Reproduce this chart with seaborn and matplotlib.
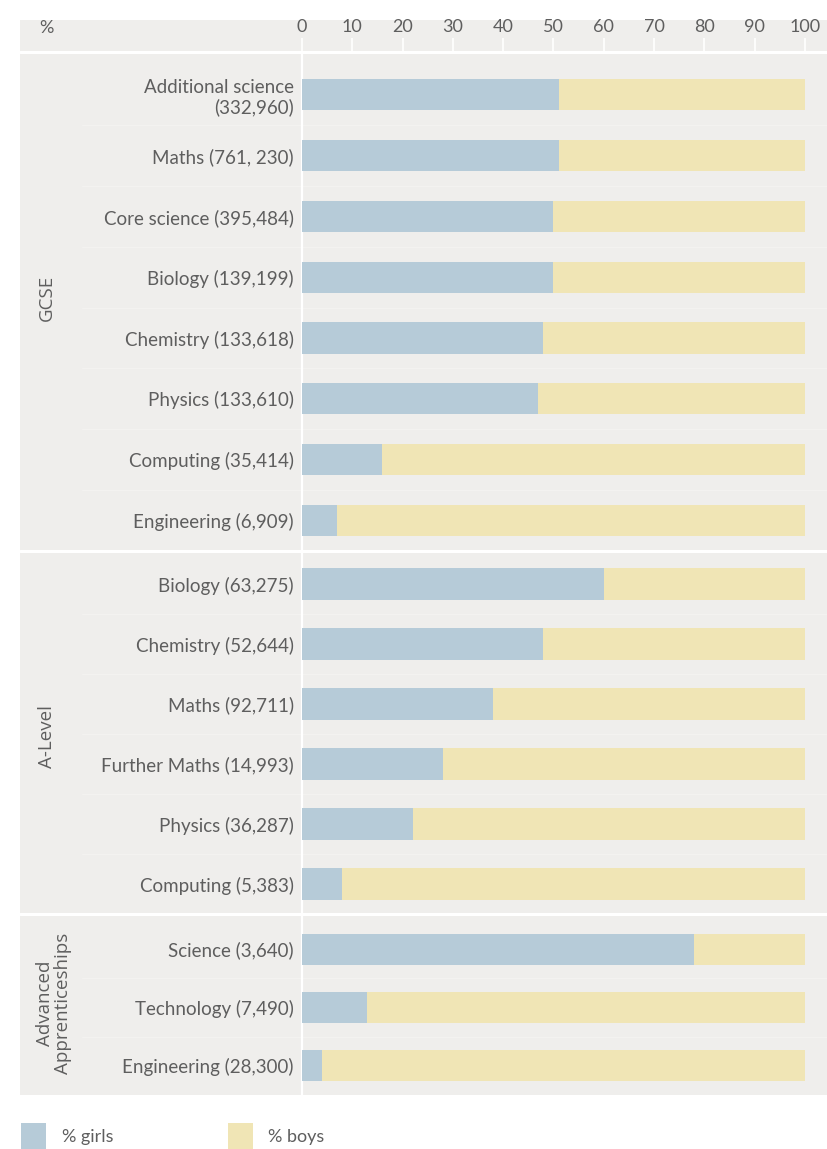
import matplotlib
matplotlib.use("Agg")
import matplotlib.pyplot as plt
from matplotlib.patches import Rectangle, Patch
from matplotlib.lines import Line2D
import seaborn as sns
import pandas as pd

sns.set_theme(style="white")
plt.rcParams['font.family'] = ['Lato', 'DejaVu Sans']

# ---- data ----
gcse_labels = ["Additional science\n(332,960)", "Maths (761, 230)", "Core science (395,484)",
               "Biology (139,199)", "Chemistry (133,618)", "Physics (133,610)",
               "Computing (35,414)", "Engineering (6,909)"]
gcse_girls = [51, 51, 50, 50, 48, 47, 16, 7]

alevel_labels = ["Biology (63,275)", "Chemistry (52,644)", "Maths (92,711)",
                 "Further Maths (14,993)", "Physics (36,287)", "Computing (5,383)"]
alevel_girls = [60, 48, 38, 28, 22, 8]

appr_labels = ["Science (3,640)", "Technology (7,490)", "Engineering (28,300)"]
appr_girls = [78, 13, 4]

group_names = ["GCSE", "A-Level", "Advanced\nApprenticeships"]
total = 100
x_ticks = list(range(0, 101, 10))

BLUE = "#b6cbd8"
YELLOW = "#f0e5b5"
PANEL = "#efeeec"
TEXT = "#5e5e5e"

W, H = 828, 1149
fig = plt.figure(figsize=(W / 100, H / 100), dpi=100, facecolor="white")

def fx(px):
    return px / W

def fy(py):
    return 1 - py / H

# panel background
fig.add_artist(Rectangle((fx(20), fy(1095)), fx(828) - fx(20), fy(20) - fy(1095),
                         transform=fig.transFigure, facecolor=PANEL, edgecolor="none", zorder=0))

ax_left, ax_right = 302, 825
top_px, bot_px = 52, 1095
gs = fig.add_gridspec(3, 1, left=fx(ax_left), right=fx(ax_right), top=fy(top_px), bottom=fy(bot_px),
                      height_ratios=[499, 363, 181], hspace=0)

sections = [(gcse_labels, gcse_girls), (alevel_labels, alevel_girls), (appr_labels, appr_girls)]
top_margins = [0.7, 0.55, 0.6]
bar_widths = [0.51, 0.52, 0.53]
xmax = 100 * (ax_right - ax_left) / (805 - ax_left)
for i, (labels, girls) in enumerate(sections):
    ax = fig.add_subplot(gs[i])
    ax.set_facecolor("none")
    df = pd.DataFrame({"subject": labels, "girls": girls, "total": [total] * len(labels)})
    sns.barplot(data=df, x="total", y="subject", orient="h", color=YELLOW, width=bar_widths[i],
                saturation=1, ax=ax, zorder=3, linewidth=0, edgecolor="none")
    sns.barplot(data=df, x="girls", y="subject", orient="h", color=BLUE, width=bar_widths[i],
                saturation=1, ax=ax, zorder=4, linewidth=0, edgecolor="none")
    ax.set_xlim(0, xmax)
    ax.set_ylim(len(labels) - 0.5, -top_margins[i])
    ax.set_xlabel("")
    ax.set_ylabel("")
    for s in ["top", "right", "bottom"]:
        ax.spines[s].set_visible(False)
    ax.spines["left"].set_color("white")
    ax.spines["left"].set_linewidth(1.6)
    ax.tick_params(axis="y", length=0, pad=6, labelsize=13.5, labelcolor=TEXT)
    # faint row separators
    xmin_frac = (82 - ax_left) / (ax_right - ax_left)
    for k in range(len(labels) - 1):
        ax.axhline(k + 0.5, xmin=xmin_frac, xmax=1.02, color="#f3f2f0", lw=1.0,
                   clip_on=False, zorder=1)
    if i == 0:
        ax.xaxis.tick_top()
        ax.set_xticks(x_ticks)
        ax.set_xticklabels([str(t) for t in x_ticks])
        ax.tick_params(axis="x", top=True, bottom=False, length=10, width=1.2, color="white",
                       direction="out", pad=2, labelsize=13, labelcolor=TEXT)
    else:
        ax.set_xticks([])

# section separators (white lines)
for py in [52, 551, 914]:
    fig.add_artist(Line2D([fx(20), fx(828)], [fy(py), fy(py)], transform=fig.transFigure,
                          color="white", lw=2.2, zorder=5))

# header "%"
fig.text(fx(46), fy(28), "%", ha="center", va="center", fontsize=13, color=TEXT)

# group labels
group_pos = [(47, 298), (47, 737), (54, 1003)]
for name, (gx, gy) in zip(group_names, group_pos):
    fig.text(fx(gx), fy(gy), name, rotation=90, ha="center", va="center",
             fontsize=13.5, color=TEXT, multialignment="center", linespacing=1.05,
             family=["Open Sans", "DejaVu Sans"])

# legend
handles = [Patch(facecolor=BLUE, edgecolor="none", label="% girls"),
           Patch(facecolor=YELLOW, edgecolor="none", label="% boys")]
fig.legend(handles=handles, loc="center left", bbox_to_anchor=(fx(21), fy(1136)), ncol=2,
           frameon=False, fontsize=13, labelcolor=TEXT, handlelength=1.4, handleheight=1.9,
           handletextpad=0.85, columnspacing=6.35, borderaxespad=0, borderpad=0)

fig.savefig("out.png", dpi=100, facecolor="white")
